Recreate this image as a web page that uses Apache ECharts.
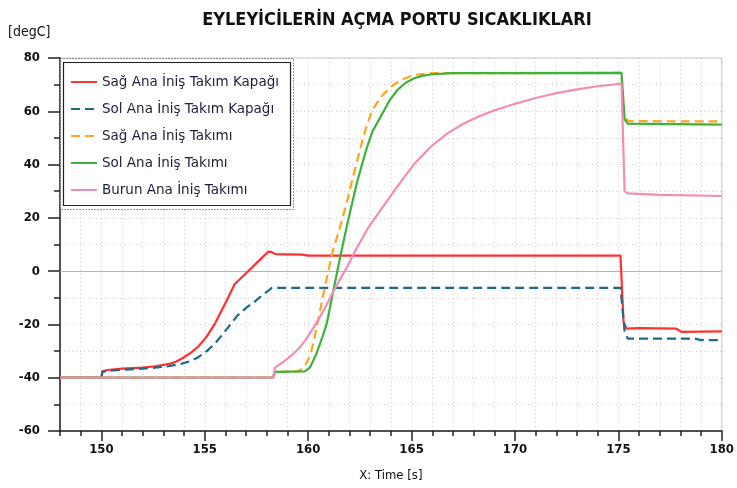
<!DOCTYPE html>
<html>
<head>
<meta charset="utf-8">
<script src="https://cdn.jsdelivr.net/npm/echarts@6/dist/echarts.min.js"></script>
<style>html,body{margin:0;padding:0;background:#fff}#c{width:737px;height:488px}</style>
</head>
<body>
<div id="c"></div>
<script>
const seriesNames = ['Sağ Ana İniş Takım Kapağı','Sol Ana İniş Takım Kapağı','Sağ Ana İniş Takımı','Sol Ana İniş Takımı','Burun Ana İniş Takımı'];
const xTickLabels = [150,155,160,165,170,175,180];
const yTickLabels = [-60,-40,-20,0,20,40,60,80];

const tRed = [148,150,150.05,150.3,151,152,152.6,153.3,153.6,153.9,154.2,154.4,154.7,155.1,155.5,156,156.45,157,157.5,158.05,158.2,158.4,159.7,160,175.1,175.25,175.4,176,177.8,178.05,180];
const vRed = [-40,-40,-37.6,-37.1,-36.6,-36.2,-35.7,-34.8,-34.0,-32.8,-31.3,-30.2,-28.2,-24.5,-19.6,-12,-4.8,-0.8,3.0,7.2,7.3,6.4,6.2,5.8,5.8,-19,-21.6,-21.4,-21.6,-22.8,-22.6];

const tTeal = [148,150,150.05,150.3,151,152,152.6,153.3,153.9,154.3,154.7,155.1,155.5,155.8,156.15,156.6,157.0,157.4,157.8,158.25,160,175.1,175.3,175.45,178.7,179.0,180];
const vTeal = [-40,-40,-37.8,-37.4,-37.0,-36.6,-36.2,-35.6,-34.7,-33.8,-32.2,-30.0,-27.1,-24.3,-20.9,-16.5,-13.8,-11.5,-8.9,-6.3,-6.3,-6.3,-22.5,-25.3,-25.3,-25.9,-25.9];

const tOrange = [148,158.3,158.4,159.5,159.75,159.95,160.1,160.25,160.4,160.7,161.0,161.2,161.5,161.9,162.2,162.5,162.8,163.1,163.5,164.0,164.5,165.1,165.5,166,175.15,175.3,175.5,180];
const vOrange = [-40,-40,-37.8,-37.6,-36.5,-34.0,-31.5,-27.0,-21.5,-10,1.0,7.9,15.4,26.7,36.5,45.4,53.8,60.4,65.2,69.2,71.8,73.6,74.0,74.3,74.4,57.5,56.3,56.2];

const tGreen = [148,158.3,158.4,159.85,160.1,160.4,160.7,160.9,161.2,161.55,161.9,162.35,162.8,163.1,163.5,163.9,164.3,164.7,165.1,165.5,166,167,175.15,175.3,175.45,180];
const vGreen = [-40,-40,-37.8,-37.6,-36.0,-31.0,-24.5,-19.6,-8.0,5.4,18.0,33.0,45.4,52.3,57.9,63.6,67.9,70.6,72.3,73.3,73.9,74.3,74.4,57.0,55.4,55.0];

const tPink = [148,158.3,158.4,158.7,159.0,159.3,159.6,159.9,160.25,160.6,160.9,161.2,161.55,161.9,162.35,162.9,163.5,164.3,165.1,165.9,166.7,167.5,168.3,169,170,171,172,173,174,175.15,175.3,175.45,177,180];
const vPink = [-40,-40,-36.2,-34.6,-32.8,-30.9,-28.6,-25.5,-21.3,-16.8,-12.5,-7.9,-2.9,1.8,8.7,16.2,22.9,31.6,40.0,46.5,51.5,55.3,58.2,60.3,62.8,65.0,66.8,68.2,69.4,70.4,30.0,29.2,28.6,28.2];

function zip(t, v){ return t.map((x,i)=>[x, v[i]]); }

const colors = ['#ff3030','#1b6a8a','#ffa41f','#3db23a','#f48cb6'];
const dashes = ['solid',[9,5],[9,5],'solid','solid'];
const dataSets = [zip(tRed,vRed), zip(tTeal,vTeal), zip(tOrange,vOrange), zip(tGreen,vGreen), zip(tPink,vPink)];

const chart = echarts.init(document.getElementById('c'), null, {renderer:'canvas'});
const labelFont = {fontFamily:'DejaVu Sans Condensed', fontWeight:'bold', fontSize:13, color:'#111'};
const series = dataSets.map((d,i)=>({
  name: seriesNames[i], type:'line', data:d, showSymbol:false, symbol:'none',
  smooth:false, xAxisIndex:0, yAxisIndex:0,
  lineStyle:{color:colors[i], width:2.2, type:dashes[i], join:'round'}, itemStyle:{color:colors[i]},
  z: 2+i*0.01
}));
series[0].markLine = {silent:true, symbol:'none', label:{show:false},
  lineStyle:{color:'#b5b5b5', width:1, type:'solid'}, data:[{yAxis:0}], z:1};

chart.setOption({
  animation:false,
  backgroundColor:'#fff',
  title:{text:'EYLEYİCİLERİN AÇMA PORTU SICAKLIKLARI', left:392, top:6, textAlign:'center',
    textStyle:{fontFamily:'DejaVu Sans Condensed', fontWeight:'bold', fontSize:18, color:'#111'}},
  grid:{left:60, right:14, top:58, bottom:57, show:true, borderColor:'#c8c8c8', borderWidth:1},
  xAxis:[{type:'value', min:148, max:180, interval:1,
    name:'X: Time [s]', nameLocation:'middle', nameGap:38,
    nameTextStyle:{fontFamily:'DejaVu Sans Condensed', fontSize:13, color:'#111'},
    axisLine:{onZero:false, lineStyle:{color:'#222', width:1.5}},
    axisTick:{length:5, lineStyle:{color:'#222', width:1.5}},
    axisLabel:Object.assign({margin:12, formatter:v=> xTickLabels.includes(v)? String(v):''}, labelFont),
    splitLine:{show:true, lineStyle:{color:'#cfcfcf', type:[1,3], width:1}}},
   {type:'value', min:148, max:180, interval:1, position:'bottom', offset:0,
    axisLine:{show:false, onZero:false}, axisLabel:{show:false}, splitLine:{show:false},
    axisTick:{show:true, length:10, customValues:xTickLabels, lineStyle:{color:'#222', width:1.5}}}],
  yAxis:[{type:'value', min:-60, max:80, interval:10,
    axisLine:{show:true, onZero:false, lineStyle:{color:'#222', width:1.5}},
    axisTick:{show:true, length:6, lineStyle:{color:'#222', width:1.5}},
    axisLabel:Object.assign({margin:20, formatter:v=> yTickLabels.includes(v)? String(v):''}, labelFont),
    splitLine:{show:true, lineStyle:{color:'#cfcfcf', type:[1,3], width:1}}},
   {type:'value', min:-60, max:80, interval:10, position:'left', offset:0,
    axisLine:{show:false, onZero:false}, axisLabel:{show:false}, splitLine:{show:false},
    axisTick:{show:true, length:12, customValues:yTickLabels, lineStyle:{color:'#222', width:1.5}}}],
  legend:{orient:'vertical', left:63, top:62, padding:[13,8,7,7], itemGap:13, itemWidth:26, itemHeight:14,
    z:10, itemStyle:{opacity:0},
    textStyle:{fontFamily:'DejaVu Sans', fontSize:13.5, color:'#1d1d3a'},
    data:seriesNames},
  graphic:[
    {type:'rect', z:5, silent:true, shape:{x:60.5, y:58.5, width:233, height:151},
      style:{fill:'#fff', stroke:'#333', lineWidth:1, lineDash:[1,2]}},
    {type:'rect', z:6, silent:true, shape:{x:63.5, y:62.5, width:227, height:143},
      style:{fill:'#fff', stroke:'#222', lineWidth:1.2}},
    {type:'text', left:8, top:25, z:10, style:{text:'[degC]', font:'14px "DejaVu Sans Condensed"', fill:'#111'}}
  ],
  series:series
});
</script>
</body>
</html>
